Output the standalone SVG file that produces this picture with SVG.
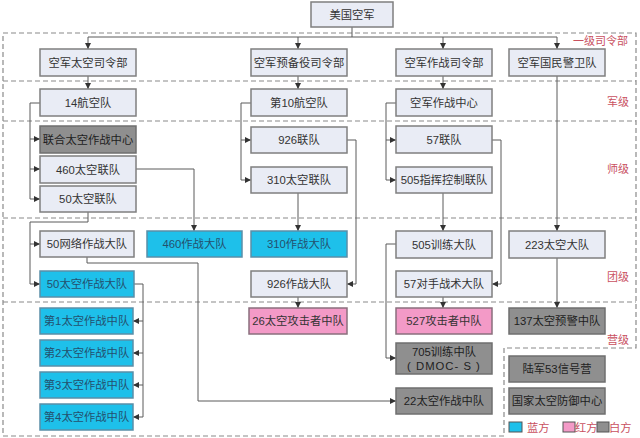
<svg xmlns="http://www.w3.org/2000/svg" width="640" height="438" viewBox="0 0 640 438">
<defs>
<marker id="ah" markerUnits="userSpaceOnUse" markerWidth="6" markerHeight="6" refX="6" refY="3" orient="auto"><path d="M0,0 L6,3 L0,6 z" fill="#333"/></marker>
<style>
.bx{fill:#e9ecf5;stroke:#7f7f7f;stroke-width:1.5}
.gy{fill:#8f8f8f;stroke:#6f6f6f;stroke-width:1.5}
.cy{fill:#1ec0ea;stroke:#5a8fa8;stroke-width:1.5}
.pk{fill:#f39ac7;stroke:#8a6f7d;stroke-width:1.5}
text{font-family:"Liberation Sans","Noto Sans CJK SC",sans-serif;font-size:11.3px;fill:#333;text-anchor:middle;dominant-baseline:central}
.ct{fill:#24506e}
.dk{fill:#1e1e1e}
.lv{fill:#c9515f;font-size:11px;text-anchor:start}
.dash{fill:none;stroke:#8a8a8a;stroke-width:1.2;stroke-dasharray:5,3}
.cn path{fill:none;stroke:#5a5a5a;stroke-width:1}
.lg{font-size:11.3px;text-anchor:start;fill:#c9515f}
</style>
</defs>
<rect width="640" height="438" fill="#fff"/>
<g id="frame">
<path class="dash" d="M3,33 H636 V348 H504 V436 H3 Z"/>
<path class="dash" d="M3,81 H636 M3,121 H636 M3,218 H636 M3,302 H636"/>
<text class="lv" x="573" y="41">一级司令部</text>
<text class="lv" x="607" y="102">军级</text>
<text class="lv" x="607" y="169">师级</text>
<text class="lv" x="607" y="277">团级</text>
<text class="lv" x="607" y="340">营级</text>
</g>
<g class="cn" id="connectors">
<path d="M352,27 V37 M88,37 H557"/>
<path d="M88,37 V49" marker-end="url(#ah)"/>
<path d="M298,37 V49" marker-end="url(#ah)"/>
<path d="M443,37 V49" marker-end="url(#ah)"/>
<path d="M557,37 V49" marker-end="url(#ah)"/>
<path d="M88,76 V89" marker-end="url(#ah)"/>
<path d="M298,76 V89" marker-end="url(#ah)"/>
<path d="M443,76 V89" marker-end="url(#ah)"/>
<path d="M40,103 H30 V199 H40" marker-end="url(#ah)"/>
<path d="M30,139 H40" marker-end="url(#ah)"/>
<path d="M30,169 H40" marker-end="url(#ah)"/>
<path d="M251,103 H241 V180 H251" marker-end="url(#ah)"/>
<path d="M241,140 H251" marker-end="url(#ah)"/>
<path d="M396,103 H386 V180 H396" marker-end="url(#ah)"/>
<path d="M386,140 H396" marker-end="url(#ah)"/>
<path d="M136,169 H194 V231" marker-end="url(#ah)"/>
<path d="M298,193 V231" marker-end="url(#ah)"/>
<path d="M347,140 H356 V284 H347" marker-end="url(#ah)"/>
<path d="M492,140 H501 V284 H492" marker-end="url(#ah)"/>
<path d="M443,193 V231" marker-end="url(#ah)"/>
<path d="M557,76 V231" marker-end="url(#ah)"/>
<path d="M557,258 V308" marker-end="url(#ah)"/>
<path d="M298,297 V308" marker-end="url(#ah)"/>
<path d="M443,297 V308" marker-end="url(#ah)"/>
<path d="M396,244 H386 V358 H396" marker-end="url(#ah)"/>
<path d="M88,212 V222 H30 V284 H40" marker-end="url(#ah)"/>
<path d="M30,244 H40" marker-end="url(#ah)"/>
<path d="M87,257 V263 H198 V401 H396" marker-end="url(#ah)"/>
<path d="M134,284 H143 V417 H133" marker-end="url(#ah)"/>
<path d="M143,321 H133" marker-end="url(#ah)"/>
<path d="M143,353 H133" marker-end="url(#ah)"/>
<path d="M143,385 H133" marker-end="url(#ah)"/>
</g>
<g id="n-usaf"><rect class="bx" x="311" y="2" width="82" height="25"/><text x="352" y="14.5">美国空军</text></g>
<g id="n-afspc"><rect class="bx" x="40" y="49" width="96" height="27"/><text x="88" y="62.5">空军太空司令部</text></g>
<g id="n-afrc"><rect class="bx" x="251" y="49" width="96" height="27"/><text x="299" y="62.5">空军预备役司令部</text></g>
<g id="n-acc"><rect class="bx" x="396" y="49" width="96" height="27"/><text x="444" y="62.5">空军作战司令部</text></g>
<g id="n-ang"><rect class="bx" x="509" y="49" width="96" height="27"/><text x="557" y="62.5">空军国民警卫队</text></g>
<g id="n-14af"><rect class="bx" x="40" y="89" width="96" height="27"/><text x="88" y="102.5">14航空队</text></g>
<g id="n-10af"><rect class="bx" x="251" y="89" width="96" height="27"/><text x="299" y="102.5">第10航空队</text></g>
<g id="n-afwc"><rect class="bx" x="396" y="89" width="96" height="27"/><text x="444" y="102.5">空军作战中心</text></g>
<g id="n-jspoc"><rect class="gy" x="40" y="126" width="96" height="27"/><text class="dk" x="88" y="139.5">联合太空作战中心</text></g>
<g id="n-460sw"><rect class="bx" x="40" y="156" width="96" height="27"/><text x="88" y="169.5">460太空联队</text></g>
<g id="n-50sw"><rect class="bx" x="40" y="186" width="96" height="26"/><text x="88" y="199">50太空联队</text></g>
<g id="n-926w"><rect class="bx" x="251" y="127" width="96" height="26"/><text x="299" y="140">926联队</text></g>
<g id="n-310sw"><rect class="bx" x="251" y="167" width="96" height="26"/><text x="299" y="180">310太空联队</text></g>
<g id="n-57w"><rect class="bx" x="396" y="126" width="96" height="27"/><text x="444" y="139.5">57联队</text></g>
<g id="n-505w"><rect class="bx" x="396" y="167" width="96" height="26"/><text x="444" y="180">505指挥控制联队</text></g>
<g id="n-50nog"><rect class="bx" x="40" y="231" width="94" height="26"/><text x="87" y="244">50网络作战大队</text></g>
<g id="n-460og"><rect class="cy" x="147" y="231" width="95" height="26"/><text class="ct" x="194.5" y="244">460作战大队</text></g>
<g id="n-310og"><rect class="cy" x="251" y="231" width="96" height="26"/><text class="ct" x="299" y="244">310作战大队</text></g>
<g id="n-505tg"><rect class="bx" x="396" y="231" width="96" height="27"/><text x="444" y="244.5">505训练大队</text></g>
<g id="n-223sg"><rect class="bx" x="509" y="231" width="96" height="27"/><text x="557" y="244.5">223太空大队</text></g>
<g id="n-50sog"><rect class="cy" x="40" y="271" width="94" height="26"/><text class="ct" x="87" y="284">50太空作战大队</text></g>
<g id="n-926og"><rect class="bx" x="251" y="271" width="96" height="26"/><text x="299" y="284">926作战大队</text></g>
<g id="n-57atg"><rect class="bx" x="396" y="271" width="96" height="26"/><text x="444" y="284">57对手战术大队</text></g>
<g id="n-1sos"><rect class="cy" x="40" y="308" width="93" height="26"/><text class="ct" x="86.5" y="321">第1太空作战中队</text></g>
<g id="n-2sos"><rect class="cy" x="40" y="340" width="93" height="26"/><text class="ct" x="86.5" y="353">第2太空作战中队</text></g>
<g id="n-3sos"><rect class="cy" x="40" y="372" width="93" height="26"/><text class="ct" x="86.5" y="385">第3太空作战中队</text></g>
<g id="n-4sos"><rect class="cy" x="40" y="404" width="93" height="26"/><text class="ct" x="86.5" y="417">第4太空作战中队</text></g>
<g id="n-26sas"><rect class="pk" x="249" y="308" width="98" height="26"/><text x="298" y="321">26太空攻击者中队</text></g>
<g id="n-527sas"><rect class="pk" x="396" y="308" width="96" height="26"/><text x="444" y="321">527攻击者中队</text></g>
<g id="n-137swss"><rect class="gy" x="509" y="308" width="96" height="26"/><text class="dk" x="557" y="321">137太空预警中队</text></g>
<g id="n-705ts"><rect class="gy" x="396" y="343" width="96" height="31"/><text class="dk" x="444" y="351.5">705训练中队</text><text class="dk" x="444" y="365.5" letter-spacing="1">( DMOC- S )</text></g>
<g id="n-22sos"><rect class="gy" x="396" y="388" width="96" height="26"/><text class="dk" x="444" y="401">22太空作战中队</text></g>
<g id="n-53sig"><rect class="gy" x="509" y="356" width="96" height="26"/><text class="dk" x="557" y="369">陆军53信号营</text></g>
<g id="n-nsdc"><rect class="gy" x="509" y="388" width="96" height="26"/><text class="dk" x="557" y="401">国家太空防御中心</text></g>
<g id="legend">
<rect x="509" y="422" width="13" height="10" fill="#1ec0ea" stroke="#555" stroke-width="1"/>
<text class="lg" x="527" y="427.5">蓝方</text>
<rect x="563" y="422" width="12" height="10" fill="#f39ac7" stroke="#555" stroke-width="1"/>
<text class="lg" x="575" y="427.5">红方</text>
<rect x="597" y="422" width="12" height="10" fill="#8f8f8f" stroke="#555" stroke-width="1"/>
<text class="lg" x="609" y="427.5">白方</text>
</g>
</svg>
